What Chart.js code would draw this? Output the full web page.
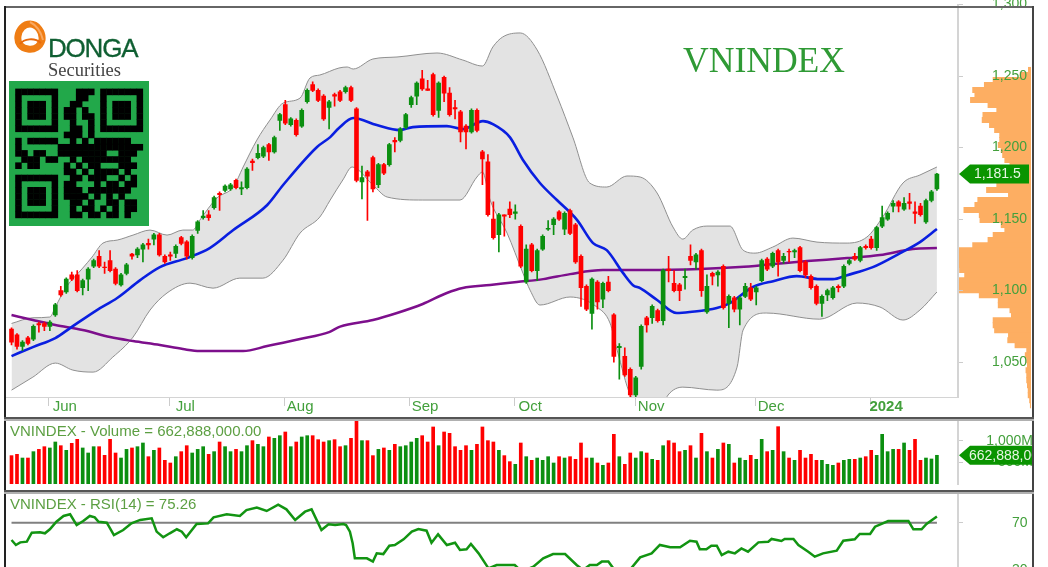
<!DOCTYPE html>
<html>
<head>
<meta charset="utf-8">
<script src="https://cdn.jsdelivr.net/npm/chart.js@4/dist/chart.umd.min.js"></script>
<style>
  html, body { margin: 0; padding: 0; background: #fff; overflow: hidden; width: 1048px; height: 567px; }
  canvas { position: absolute; left: 0; filter: blur(0.35px); }
  .line { position: absolute; }
  .sep { position: absolute; left: 4px; width: 1030px; height: 4px; background: linear-gradient(#555 50%, #b0b0b0 50%); }
  .label { position: absolute; left: 10px; font: 15px "Liberation Sans", Arial, sans-serif; color: #5c9f42; white-space: nowrap; }
  #title { position: absolute; left: 683px; top: 39px; font: 35.6px "Liberation Serif", serif; color: #2f9a35; }
  #donga { position: absolute; left: 48px; top: 33px; font: 26px "Liberation Sans", Arial, sans-serif; color: #0f5f32; letter-spacing: -1.2px; -webkit-text-stroke: 0.3px #0f5f32; }
  #sec { position: absolute; left: 48px; top: 60px; font: 18.5px "Liberation Serif", serif; color: #444; }
  #logo { position: absolute; left: 14px; top: 20px; }
  #qr { position: absolute; left: 9px; top: 81px; filter: blur(0.4px); }
</style>
</head>
<body>
<canvas id="profile" width="1033" height="444" style="top:-12px"></canvas>
<canvas id="main" width="1033" height="427" style="top:-10px"></canvas>
<canvas id="volume" width="1033" height="87" style="top:409px"></canvas>
<canvas id="rsi" width="1033" height="106" style="top:482px"></canvas>

<div class="line" style="left:4px;top:6px;width:1030px;height:2px;background:#666"></div>
<div class="line" style="left:4px;top:6px;width:2px;height:561px;background:#222"></div>
<div class="line" style="left:1032px;top:6px;width:2px;height:561px;background:#444"></div>
<div class="sep" style="top:417px"></div>
<div class="sep" style="top:490px"></div>

<div id="title">VNINDEX</div>
<svg id="logo" width="32" height="34" viewBox="0 0 32 34">
  <path d="M16 4 C23 4 29 12 28 20 C26 27 20 30 14 29 C7 28 3 23 4 16 C5 9 10 4 16 4 Z" fill="none" stroke="#ef7d14" stroke-width="7"/>
  <path d="M16 2 C22 5 27 12 29 20" fill="none" stroke="#f9a860" stroke-width="2"/>
  <path d="M6 24 C10 19 20 17 27 23" fill="none" stroke="#e8690c" stroke-width="2"/>
</svg>
<div id="donga">DONGA</div>
<div id="sec">Securities</div>
<svg id="qr" width="140" height="145"></svg>
<div class="label" style="top:422px">VNINDEX - Volume = 662,888,000.00</div>
<div class="label" style="top:495px">VNINDEX - RSI(14) = 75.26</div>

<script>
// daily candles, June 2023 - January 2024
const opens = [1073,1069,1061,1067,1066,1077,1077,1075,1083,1100,1099,1111,1111,1102,1108,1117,1124,1116.5,1121,1115,
  1104,1112,1125.5,1125,1129,1133,1136,1139,1124,1125,1126,1137,1134,1123,1142,1151,1153,1158,1168,1170,
  1171,1177,1171,1172,1190.5,1193,1194,1202,1197,1219,1230,1216,1219,1215,1232,1244,1240,1236,1228,1237,
  1239,1239,1242,1227,1176,1183,1193,1174,1188,1188,1205,1205,1214,1230,1236,1248,1241,1251,1226,1249,
  1238,1228,1225,1215,1211,1226,1197,1190,1150,1139,1153,1157,1154,1145,1106,1132,1114,1129,1143,1146,
  1155,1143,1156,1146,1124,1103,1084,1106,1094,1106,1083,1060,1054,1045,1027,1047,1081,1081,1086,1079,
  1115,1105,1104,1109,1124,1120,1128,1085,1112,1111,1117,1091,1095,1087,1096,1102,1099,1107,1122,1117,
  1128,1121,1127.5,1127,1130,1120,1110,1103,1091,1097,1095,1103,1103,1119,1124,1121,1131,1136,1130,1145,
  1150,1159,1162,1157,1162,1155,1159,1148,1163,1171];
const closes = [1064,1061,1064,1063,1075,1076,1075,1078,1090,1097,1108,1108,1100,1107,1115,1121,1117,1116,1114,1105,
  1111,1118,1124,1129,1132,1132,1139,1125,1120,1124,1131,1133,1124,1138,1148,1152,1151,1165,1167,1173,
  1174,1172,1172,1185,1189.5,1196,1200,1197,1207,1223,1217,1220,1209,1226,1240,1240,1233,1220,1232,1236,
  1233,1242,1233,1177,1179,1180,1171,1188,1182,1202,1204,1213,1223,1235,1245,1241,1240,1223,1245,1238,
  1223,1227,1211,1211,1226,1212,1192,1153,1137,1153,1152,1153,1155,1117,1129,1114,1128,1138,1143.5,1150,
  1150,1154,1140,1120,1102,1087,1108,1092,1105,1100,1054,1061,1041,1027,1039,1075,1076,1089,1079,1114,
  1114,1100,1100,1110,1121,1125,1100,1103,1110,1113,1088,1096,1087,1095,1103,1094,1102,1121,1115,1126,
  1120,1124,1127,1128,1114,1111,1102,1091,1096,1100,1102,1102,1117,1121,1122,1130,1130,1130,1144,1151,
  1154,1161,1159,1161,1161,1154,1153,1163,1169,1181.5];
const highs = [1074,1070,1065,1068,1076,1078,1078,1079,1091,1103,1109,1113,1114,1108,1116,1122,1128,1120,1128,1116,
  1112,1119,1126,1130,1133,1136,1140,1140,1125,1127,1132,1138,1135,1139,1149,1156,1156,1166,1169,1174,
  1175,1178,1176,1186,1192,1202,1201,1203,1208,1224,1233,1221,1220,1227,1241,1246,1241,1237,1233,1238,
  1240,1243,1243,1228,1187,1184,1194,1189,1189,1203,1207,1214,1224,1236,1246,1254,1247,1252,1246,1250,
  1242,1233,1226,1216,1227,1227,1198,1195,1162,1154,1153,1162,1160,1146,1132,1133,1129,1139,1149,1151,
  1156,1155,1157,1147,1125,1104,1109,1107,1106,1110,1084,1063,1060,1046,1040,1076,1082,1090,1087,1115,
  1124,1114,1105,1115,1132,1126,1129,1111,1113,1114,1118,1097,1096,1096,1105,1105,1103,1122,1123,1127,
  1129,1126,1129,1129,1131,1121,1111,1104,1097,1101,1103,1104,1118,1122,1126,1131,1132,1138,1145,1159,
  1155,1163,1163,1165,1168,1162,1161,1164,1170,1182];
const lows = [1062,1059,1058,1062,1065,1071,1072,1072,1082,1096,1098,1107,1099,1097,1100,1116,1116,1112,1113,1104,
  1103,1111,1122,1123,1120,1129,1132,1124,1119,1121,1123,1132,1122,1122,1140,1150,1149,1157,1156,1169,
  1170,1171,1167,1171,1184,1192,1193,1191,1196,1212,1216,1215,1208,1214,1231,1239,1232,1219,1213,1229,
  1232,1238,1232,1176,1164,1149,1169,1172,1181,1187,1197,1204,1213,1228,1230,1240,1240,1222,1221,1232,
  1222,1220,1204,1199,1210,1211,1174,1152,1136,1127,1138,1151,1150,1116,1105,1113,1107,1128,1142,1139,
  1149,1139,1139,1119,1089,1086,1073,1087,1088,1099,1050,1038,1040,1025,1025,1045,1071,1077,1078,1076,
  1106,1099,1093,1101,1118,1115,1096,1084,1104,1103,1087,1074,1085,1076,1095,1093,1090,1106,1114,1116,
  1110,1119,1120,1123,1113,1109,1101,1090,1082,1093,1094,1099,1102,1118,1121,1120,1129,1129,1128,1144,
  1149,1155,1155,1156,1157,1147,1152,1147,1162,1170];
const volumes = [655,685,600,600,747,800,862,832,970,885,778,939,1032,832,716,862,862,662,1032,716,
  600,800,832,862,947,631,778,832,547,485,631,747,885,716,800,862,685,747,970,862,
  747,800,747,885,1001,916,862,1086,1055,1116,1201,862,970,1086,1116,1116,1024,970,1001,1024,
  862,885,1055,1478,1001,1001,655,800,832,778,916,862,885,970,1055,1116,970,1317,885,1201,
  1170,862,778,885,778,916,1317,1001,970,778,655,516,454,947,631,547,600,547,631,485,
  631,600,631,570,947,600,600,485,431,485,1147,631,454,716,600,747,716,570,547,885,
  1001,947,747,778,885,600,1170,747,600,800,947,916,485,600,547,662,570,1032,747,778,
  1324,747,600,547,778,600,685,547,547,454,431,485,547,570,570,600,631,778,662,1147,
  747,800,800,947,778,1032,547,600,578,663];

// bollinger bands and moving averages, read at the bars where they bend
const upperX = [0,3.9,7,8,10,13,14.7,16.7,19.3,22.2,25.3,28.4,31.3,33.1,34.4,37.5,40.5,42.3,44.8,47.2,49.6,52.7,54.5,56.3,59.8,61.3,62.4,66,70.4,77.7,82.4,86,87.9,89.7,92.9,96,99.7,102.5,105.6,108.7,112.4,114.8,117.9,120.8,122.6,124.4,127,131.2,133.6,135.8,139,142.7,147.1,152.6,156.2,159.1,162.8,165.9,169];
const upperY = [1077,1081,1081.5,1088.5,1102.5,1115.7,1123.4,1133.2,1135.3,1138.8,1142.3,1138.8,1142.3,1142.3,1149.3,1164.7,1172.4,1186.4,1205.2,1219.2,1231.1,1234.6,1248.6,1250.7,1255.6,1256.3,1254.9,1261.9,1263.3,1266.1,1261.2,1257,1270.3,1277.3,1280.1,1268.2,1235.3,1207.3,1175.2,1172.4,1180.1,1179.4,1168.2,1144.4,1136,1142.3,1145.1,1145.1,1128.3,1126.2,1130.4,1136.7,1133.9,1133.2,1137.4,1151.4,1175.2,1180.8,1186.4];
const lowerX = [0,3.9,8,11.2,14.9,18.5,22.2,25.3,28.4,32.6,36.8,41.7,45.9,49.6,52.7,56.3,58.2,60.5,62.2,66,68.6,75.1,81.9,85,86,87.4,90.5,93.4,94.7,96.5,102,106.9,109.3,110.6,113,115.7,118.4,119.9,122.6,128.8,132.5,133.6,137.9,147.6,154.4,158.6,162.8,165.9,169];
const lowerY = [1030.4,1039.5,1049.3,1044.4,1043,1053.5,1067.5,1086.4,1098.3,1105.2,1101.7,1108.7,1108.7,1121.3,1140.2,1151.4,1163.3,1177.3,1186.4,1173.8,1165.4,1163.3,1163.3,1179.4,1182.9,1163.3,1140.2,1112.2,1100.3,1089.9,1095.5,1088.5,1077.3,1058.4,1027,1016,1016,1027,1032.5,1030.4,1046.5,1072.4,1084.3,1080,1091.3,1088.5,1079.4,1086.4,1099];
const maFastX = [0,3.9,8,10.7,15.6,19.3,23.5,27.1,32,36.2,40.5,46.7,49.6,55.8,58.2,59.8,62.4,66.7,70.9,73.3,79.5,82.4,86.1,87.9,91,93.4,96.5,99.6,103.3,106.2,108.7,111.7,113.5,114.8,117.9,121.5,123.9,128.8,131.2,135.4,139.1,143.4,147.6,150,152.6,157.3,162.3,165.9,169];
const maFastY = [1054.2,1060.5,1066.8,1073.8,1086.4,1094.8,1107.3,1116.4,1122.7,1129.7,1142.3,1159.8,1173.8,1200.4,1207.3,1213.6,1220.6,1215.7,1212.2,1214.3,1215,1212.9,1218.5,1216.4,1207.3,1191.3,1175.2,1163.3,1149.3,1133.2,1128.3,1112.2,1103.8,1101.7,1093.4,1084.3,1085,1087.8,1091.3,1102.5,1106.6,1110.1,1108,1108,1110.8,1116.4,1126.2,1133.9,1143];
const maSlowX = [0,3.9,8,13,18,22.2,27.1,31.3,34.4,42.3,46.7,52.7,58,60,66,70.4,75.1,79.5,82.4,87.4,92.3,97.1,102,108,116,125.7,133,139.1,145.3,152.6,158.6,164.6,169];
const maSlowY = [1082.9,1079.4,1075.9,1072.4,1067.5,1064.7,1061.9,1059.1,1057.7,1057.7,1061.2,1066.1,1071,1074.8,1079.4,1084.3,1090.6,1098.3,1101.8,1103.9,1106,1108,1111.5,1114.3,1114.3,1115,1116.4,1118.5,1120.6,1122.7,1124.8,1129,1129.7];

const rsiX = [0,.8,1.6,2.8,3.7,5.2,6.1,7,8.2,9.5,10.7,11.9,13.1,14.3,15.2,15.9,17.4,18.7,20.4,21.9,23.5,25.6,26.5,27.7,28.9,30.2,31.1,31.9,33.8,35.9,36.9,39.3,41.7,42.9,44.8,46.6,48.7,50.2,51.8,53.6,54.8,56.6,57.9,59.1,60.6,61.1,61.8,62.3,62.7,64.9,66,66.7,67.9,69,70,71.6,73.1,74.3,75.8,76.7,77.9,79.5,81,81.9,83.1,83.9,85.3,87.1,88.6,91.9,93.2,95.3,97.1,98.9,101.1,103.2,104.4,105.6,106.9,107.8,109,109.9,112.9,114.8,116.9,118.4,120.3,122.1,123.9,125.1,125.7,126.9,127.8,128.8,129.7,130.9,132.1,133.3,134.5,136.4,138.2,138.8,140.6,141.2,142.8,143.7,145.5,146.7,148.2,150.7,151.9,154,154.9,156.8,157.7,160.1,163.8,164.7,166.2,167.1,169];
const rsiY = [55.3,51.1,53.3,53.9,61.5,61.8,61,64.4,70.8,75.7,77.1,68,71.4,75.7,74.5,70.8,70,59.5,63.8,69.4,72.3,73.7,62.4,57.6,61,64.4,62.4,57.6,68.9,69.4,74.5,77.1,75.7,80.7,82.9,79.9,85.3,81.3,72.3,79.3,81.3,63.8,68.6,68,68.9,68,62.4,52.5,39.8,39.8,37,44,43.4,50.5,51.1,55.9,62.4,64.6,63.2,53,60.1,51.1,53,46.8,47.4,51.9,44,31.3,34.1,34.1,28.5,32.7,39.8,43.4,43.4,34.1,29.9,34.1,34.1,37,37,31.3,29.9,40.6,44,51.1,49.1,49.1,54.7,53.9,47.4,47.4,50.5,50.5,42.6,45.4,44,48.2,45.4,53.3,53.9,56.2,54.5,56.2,56.2,51.1,45.4,41.2,44,46.3,54.7,55.9,60.4,60.4,66.6,71.4,71.4,64.4,64.4,68.9,75.26];

// volume by price on the right edge, share of the widest level
const profilePrices = [1254.2,1250.7,1247.2,1243.7,1240.2,1236.7,1233.2,1229.7,1226.2,1222.7,1219.2,1215.7,1212.2,1208.7,1205.2,1201.7,1198.2,1194.7,1191.2,1187.7,1184.2,1180.7,1177.2,1173.7,1170.2,1166.7,1163.2,1159.7,1156.2,1152.7,1149.2,1145.7,1142.2,1138.7,1135.2,1131.7,1128.2,1124.7,1121.2,1117.7,1114.2,1110.7,1107.2,1103.7,1100.2,1096.7,1093.2,1089.7,1086.2,1082.7,1079.2,1075.7,1072.2,1068.7,1065.2,1061.7,1058.2,1054.7,1051.2,1047.7,1044.2,1040.7,1037.2,1033.7,1030.2,1026.7,1023.2,1019.7];
const profileShare = [3.7,15,52,64,80,77,83,59,47,66,67,57,50,43,43,45,41,39,36,29,31,34,41,47,61,31,73,77,92,71,70,41,36,52,59,80,100,100,100,100,98,91,100,100,100,71,45,45,29,27,52,52,50,31,32,22,6,8,6,5,7,6,6,5,4,4,2,1];

const monthTicks = [6.8,28.8,49.8,72.6,91.8,113.9,135.8,156.8];
const monthLabels = ['Jun','Jul','Aug','Sep','Oct','Nov','Dec','2024'];
const priceTicks = [1050,1100,1150,1200,1250,1300];
const volumeTicks = [500,1000];
const rsiTicks = [30,70];

const RED = '#ff0000', GREEN = '#0b8f10', LABEL = '#43a03c', AXIS = '#d4d4d4';
const FONT = '"Liberation Sans", Arial, sans-serif';
const lastBar = closes.length - 1;
const candleColors = closes.map((c, i) => c < opens[i] ? RED : GREEN);

function pairs(xs, ys) {
  return xs.map((x, i) => ({ x: x, y: ys[i] }));
}

// the hidden x axis every panel shares so the bars line up
function sharedX(extra) {
  return Object.assign({ type: 'linear', min: -1.19, max: 172.85, offset: false, display: false, grid: { display: false, offset: false } }, extra);
}

function rightAxis(min, max, tickValues, format, padding, crossAlign) {
  return {
    position: 'right', min: min, max: max,
    afterBuildTicks: axis => { axis.ticks = tickValues.map(v => ({ value: v })); },
    afterFit: axis => { axis.width = 75; axis.paddingTop = 0; axis.paddingBottom = 0; },
    border: { color: AXIS, width: 2 },
    grid: { drawOnChartArea: false, color: '#cccccc', tickLength: 5 },
    ticks: { callback: format, color: LABEL, padding: padding, crossAlign: crossAlign || 'near', font: { family: FONT, size: 14 }, autoSkip: false }
  };
}

function baseOptions(padding, scales) {
  return {
    responsive: false, animation: false, devicePixelRatio: 1,
    layout: { padding: padding },
    plugins: { legend: { display: false }, tooltip: { enabled: false } },
    scales: scales
  };
}

// green flag on the axis with the last value
function tagPlugin(axisId, value, text, textX, right) {
  return {
    id: 'tag' + axisId,
    afterDraw(chart) {
      const y = chart.scales[axisId].getPixelForValue(value);
      const ctx = chart.ctx;
      ctx.save();
      ctx.fillStyle = '#0a9400';
      ctx.beginPath();
      ctx.moveTo(959, y);
      ctx.lineTo(970, y - 9.5);
      ctx.lineTo(right, y - 9.5);
      ctx.lineTo(right, y + 9.5);
      ctx.lineTo(970, y + 9.5);
      ctx.closePath();
      ctx.fill();
      ctx.fillStyle = '#e8f6e4';
      ctx.font = '14px ' + FONT;
      ctx.textBaseline = 'middle';
      ctx.fillText(text, textX, y + 0.5);
      ctx.restore();
    }
  };
}

const smooth = { pointRadius: 0, cubicInterpolationMode: 'monotone' };

new Chart(document.getElementById('main'), {
  type: 'bar',
  data: {
    datasets: [
      Object.assign({ type: 'line', data: pairs(upperX, upperY), borderColor: '#8f8f8f', borderWidth: 1, fill: '+1', backgroundColor: '#e3e3e3', order: 6 }, smooth),
      Object.assign({ type: 'line', data: pairs(lowerX, lowerY), borderColor: '#8f8f8f', borderWidth: 1, fill: false, order: 5 }, smooth),
      Object.assign({ type: 'line', data: pairs(maSlowX, maSlowY), borderColor: '#7d0f8c', borderWidth: 2.5, order: 4 }, smooth),
      Object.assign({ type: 'line', data: pairs(maFastX, maFastY), borderColor: '#0a1fe0', borderWidth: 2.6, order: 3 }, smooth),
      { data: highs.map((h, i) => ({ x: i, y: [lows[i], h] })), backgroundColor: candleColors, barThickness: 1, grouped: false, order: 2 },
      { data: opens.map((o, i) => ({ x: i, y: [o, closes[i]] })), backgroundColor: candleColors, barThickness: 4, grouped: false, order: 1 }
    ]
  },
  options: baseOptions({ left: 5, right: 0, top: 14.5, bottom: 0 }, {
    x: sharedX({
      display: true,
      afterBuildTicks: axis => { axis.ticks = monthTicks.map(v => ({ value: v })); },
      afterFit: axis => { axis.height = 20; },
      border: { color: AXIS, width: 1 },
      grid: { drawOnChartArea: false, offset: false, color: '#cccccc', tickLength: 9 },
      ticks: {
        callback: (v, i) => monthLabels[i], color: LABEL, padding: -8, labelOffset: 16, maxRotation: 0, autoSkip: false,
        font: c => ({ family: FONT, size: 15, weight: monthLabels[c.index] === '2024' ? 'bold' : 'normal' })
      }
    }),
    y: rightAxis(1025.6, 1300, priceTicks, v => v.toLocaleString('en-US'), 29)
  }),
  plugins: [tagPlugin('y', closes[lastBar], '1,181.5', 974, 1029)]
});

new Chart(document.getElementById('profile'), {
  type: 'bar',
  data: {
    datasets: [{ data: profilePrices.map((p, i) => ({ x: profileShare[i], y: p })), backgroundColor: '#fdae62', barThickness: 5.3, grouped: false }]
  },
  options: {
    responsive: false, animation: false, devicePixelRatio: 1, indexAxis: 'y',
    layout: { padding: { left: 958, right: 2, top: 12, bottom: 12 } },
    plugins: { legend: { display: false }, tooltip: { enabled: false } },
    scales: {
      x: { type: 'linear', reverse: true, min: 0, max: 100, display: false },
      y: { type: 'linear', min: 1009.4, max: 1303.1, offset: false, display: false }
    }
  }
});

new Chart(document.getElementById('volume'), {
  type: 'bar',
  data: {
    datasets: [{ data: volumes.map((v, i) => ({ x: i, y: v })), backgroundColor: candleColors, barThickness: 3 }]
  },
  options: baseOptions({ left: 5, right: 0, top: 12, bottom: 12 }, {
    x: sharedX(),
    y: rightAxis(0, 1455, volumeTicks, v => v === 1000 ? '1,000M' : v + 'M', 15, 'far')
  }),
  plugins: [tagPlugin('y', volumes[lastBar], '662,888,000', 969, 1040)]
});

new Chart(document.getElementById('rsi'), {
  type: 'line',
  data: {
    datasets: [
      { data: pairs(rsiX, rsiY), borderColor: '#129412', borderWidth: 2.5, pointRadius: 0, order: 1 },
      { data: pairs([0, lastBar], [70, 70]), borderColor: '#808080', borderWidth: 2, pointRadius: 0, order: 2 }
    ]
  },
  options: baseOptions({ left: 5, right: 0, top: 12, bottom: 12 }, {
    x: sharedX(),
    y: rightAxis(24.8, 94.3, rsiTicks, v => String(v), 49)
  })
});

// QR block next to the logo
const qrRows = [
  '111111100011101111111','100000100011001000001','101110100110001011101','101110101101001011101','101110101101101011101',
  '100000100100101000001','111111100110101111111','000000001110100000000','101111100101011111100','100000011111111111111',
  '110110011111111001110','011101100101111111100','101100001010110001110','000000001101011110100','111111100110111001010',
  '100000101100010110110','101110101110111111100','101110101111010101000','101110100110100110110','100000100101101010110',
  '111111100110110110100'
];
const qr = document.getElementById('qr');
let qrMarks = '<rect width="140" height="145" fill="#22a84a"/>';
qrRows.forEach((row, r) => {
  [...row].forEach((cell, c) => {
    if (cell === '1') qrMarks += `<rect x="${6.2 + c * 6.07}" y="${7.6 + r * 6.15}" width="6.5" height="6.6" fill="#000"/>`;
  });
});
qr.innerHTML = qrMarks;
</script>
</body>
</html>
